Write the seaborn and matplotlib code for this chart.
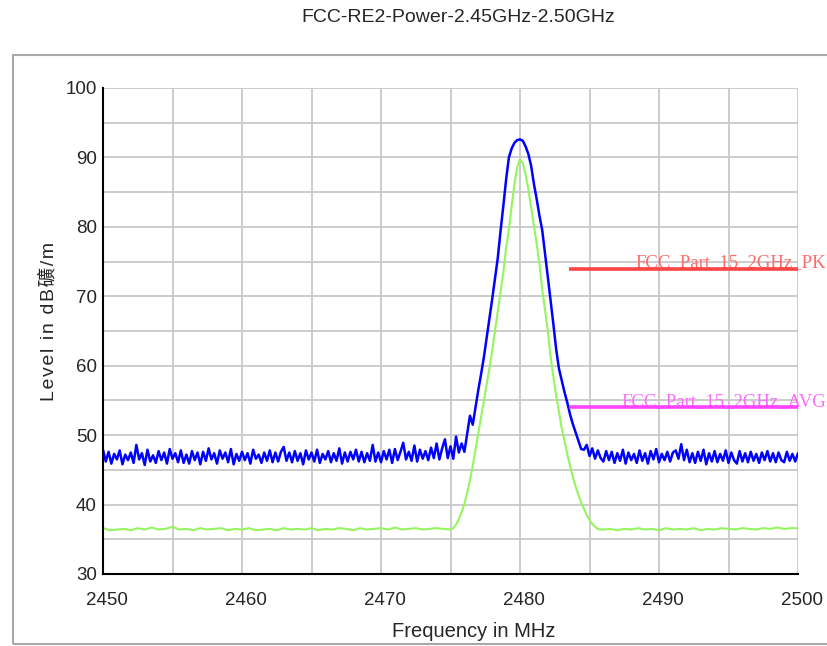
import numpy as np
import matplotlib
matplotlib.use('Agg')
import matplotlib.pyplot as plt
import matplotlib.transforms as mtransforms
from matplotlib.patches import Rectangle
import seaborn as sns
import pandas as pd

sns.set_style('white')
plt.rcParams['font.family'] = ['Liberation Sans', 'Noto Sans CJK SC', 'DejaVu Sans']

# ---- data ----
title = 'FCC-RE2-Power-2.45GHz-2.50GHz'
x_label = 'Frequency in MHz'
y_label = 'Level in dB礦/m'

# peak trace (blue), 0.2 MHz sweep steps
pk_left_start = 2450.0
pk_left = [
    47.9, 46.2, 47.6, 45.9, 47.3, 46.5, 47.8, 45.8, 47.2, 46.4,
    47.5, 46.0, 48.6, 46.5, 47.4, 45.7, 47.9, 46.2, 47.1, 46.0,
    47.7, 46.4, 47.5, 45.9, 48.0, 46.6, 47.4, 46.1, 47.8, 46.0,
    47.2, 45.9, 47.7, 46.4, 47.5, 45.8, 47.6, 46.3, 48.1, 46.5,
    47.4, 45.9, 47.8, 46.6, 47.5, 46.1, 48.0, 45.8, 47.3, 46.3,
    47.6, 46.4, 47.4, 45.9, 47.9, 46.6, 47.2, 46.0, 47.5, 46.3,
    47.8, 46.1, 47.5, 46.2, 47.6, 48.3, 46.3, 47.5, 46.1, 47.7,
    46.3, 47.4, 45.8, 47.8, 46.5, 47.5, 46.2, 47.9, 46.0, 47.3,
    46.5, 47.7, 46.1, 47.4, 46.3, 48.1, 45.9, 47.5, 46.2, 47.6,
    46.5, 47.9, 46.2, 47.6, 46.1, 47.4, 46.3, 48.6, 46.2, 47.5,
    46.1, 47.7, 46.5, 47.9, 46.0, 48.0, 46.4, 47.6, 48.9, 46.5,
    47.6, 46.3, 48.5, 46.2, 47.9, 46.6, 47.7, 46.4, 48.2, 46.7,
    48.8, 46.5, 48.1, 49.4, 46.7, 48.4, 46.6, 49.8,
]
pk_lobe_start = 2475.6
pk_lobe = [
    47.5, 48.8, 47.6, 50.2, 52.8, 51.5, 54.0, 56.5, 58.8, 61.2,
    64.0, 66.8, 69.6, 72.6, 75.5, 79.4, 83.0, 86.8, 90.0, 91.3,
    92.1, 92.5, 92.6, 92.4, 91.6, 90.5, 88.8, 86.2, 84.0, 81.6,
    79.5, 76.2, 72.8, 69.4, 66.0, 62.4, 59.6, 57.9, 56.2, 54.7,
    53.0, 51.6, 50.4, 49.2, 48.0,
]
pk_right_start = 2484.6
pk_right = [
    47.9, 48.6, 47.0, 48.1, 46.6, 47.8, 46.7, 46.2, 47.7, 46.4,
    47.6, 46.0, 47.4, 46.3, 47.9, 45.9, 47.5, 46.4, 47.3, 46.0,
    47.8, 46.3, 47.4, 45.9, 47.7, 46.5, 48.0, 46.1, 47.3, 46.4,
    47.6, 46.2, 47.5, 47.8, 46.6, 48.7, 46.4, 47.9, 46.1, 47.4,
    46.0, 47.6, 46.3, 47.9, 45.8, 47.4, 46.2, 47.7, 46.1, 47.3,
    46.3, 47.8, 46.0, 47.5, 46.4, 45.9, 47.7, 46.2, 47.4, 46.1,
    47.6, 46.3, 47.3, 46.0, 47.5, 46.4, 47.7, 46.2, 47.4, 46.1,
    47.5, 46.4, 46.1, 47.6, 46.3, 47.3, 46.2, 47.4,
]
pk_step = 0.2

# average trace (green)
av_left_start = 2450.0
av_left = [
    36.6, 36.3, 36.4, 36.5, 36.3, 36.6, 36.4, 36.7, 36.4, 36.5,
    36.8, 36.4, 36.5, 36.3, 36.6, 36.4, 36.5, 36.6, 36.3, 36.5,
    36.4, 36.6, 36.3, 36.4, 36.5, 36.3, 36.6, 36.4, 36.5, 36.4,
    36.6, 36.3, 36.5, 36.4, 36.6, 36.5, 36.3, 36.6, 36.4, 36.5,
    36.6, 36.4, 36.7, 36.4, 36.5, 36.6, 36.4, 36.5, 36.6, 36.5,
]
av_floor_step = 0.5
av_lobe_start = 2475.0
av_lobe = [
    36.4, 36.6, 37.1, 37.9, 38.9, 40.1, 41.7, 43.5, 45.6, 47.9,
    50.3, 52.6, 54.9, 57.3, 59.6, 62.2, 65.0, 67.8, 70.6, 73.4,
    77.0, 79.6, 83.0, 86.2, 88.6, 89.7, 89.2, 87.6, 85.4, 82.8,
    80.3, 77.6, 74.6, 71.0, 68.0, 65.0, 61.3, 58.4, 55.7, 53.4,
    51.0, 49.2, 47.3, 45.6, 44.0, 42.6, 41.4, 40.3, 39.4, 38.5,
    37.8, 37.2, 36.8, 36.5, 36.4,
]
av_lobe_step = 0.2
av_right_start = 2486.0
av_right = [
    36.4, 36.5, 36.3, 36.5, 36.4, 36.6, 36.4, 36.5, 36.3, 36.6,
    36.4, 36.5, 36.4, 36.6, 36.3, 36.5, 36.4, 36.6, 36.5, 36.4,
    36.6, 36.5, 36.4, 36.6, 36.5, 36.7, 36.5, 36.6, 36.6,
]

# limit lines
limit_names = ['FCC_Part_15_2GHz_PK', 'FCC_Part_15_2GHz_AVG']
limit_levels = [74, 54]
limit_start = 2483.5
limit_stop = 2500.0


def sweep(start, step, values):
    return start + step * np.arange(len(values))


pk_df = pd.DataFrame({
    'freq': np.concatenate([sweep(pk_left_start, pk_step, pk_left),
                            sweep(pk_lobe_start, pk_step, pk_lobe),
                            sweep(pk_right_start, pk_step, pk_right)]),
    'level': pk_left + pk_lobe + pk_right,
})
av_df = pd.DataFrame({
    'freq': np.concatenate([sweep(av_left_start, av_floor_step, av_left),
                            sweep(av_lobe_start, av_lobe_step, av_lobe),
                            sweep(av_right_start, av_floor_step, av_right)]),
    'level': av_left + av_lobe + av_right,
})

fig = plt.figure(figsize=(8.27, 6.46), dpi=100)
ax = fig.add_axes([103 / 827, 1 - 574 / 646, 695 / 827, 486 / 646])

# outer gray frame
fig.patches.append(Rectangle((13 / 827, 2 / 646), 1.0, (644 - 55) / 646,
                             transform=fig.transFigure, fill=False,
                             edgecolor='#a8a8a8', linewidth=1.5))

sns.lineplot(data=av_df, x='freq', y='level', ax=ax, color='#94f55f',
             linewidth=1.5, sort=False, estimator=None)
sns.lineplot(data=pk_df, x='freq', y='level', ax=ax, color='#0000ff',
             linewidth=1.8, sort=False, estimator=None)

limit_colors = ['#ff4444', '#ff44ff']
text_colors = ['#ff6b6b', '#ff6bff']
for name, lvl, c, tc in zip(limit_names, limit_levels, limit_colors, text_colors):
    ax.plot([limit_start, limit_stop], [lvl, lvl], color=c, linewidth=2.6,
            solid_capstyle='butt', zorder=3)
    ax.text(2502.0, lvl + 0.2, name, color=tc, fontsize=13.5,
            family=['Liberation Serif'], ha='right', va='baseline',
            clip_on=False, zorder=2)

ax.set_xlim(2450, 2500)
ax.set_ylim(30, 100)
ax.set_xticks(np.arange(2450, 2501, 10))
ax.set_xticks(np.arange(2455, 2500, 10), minor=True)
ax.set_yticks(np.arange(30, 101, 10))
ax.set_yticks(np.arange(35, 100, 10), minor=True)
ax.grid(which='both', color='#c8c8c8', linewidth=1.3)
ax.set_axisbelow(True)

ax.tick_params(axis='x', which='both', direction='inout', length=12, width=1.5,
               labelsize=13.5, pad=7, color='black')
ax.tick_params(axis='x', which='minor', labelbottom=False)
ax.tick_params(axis='y', which='both', direction='inout', length=11, width=1.5,
               labelsize=13.5, pad=-1, color='black')
ax.tick_params(axis='y', which='minor', labelleft=False)

shift = mtransforms.ScaledTranslation(4 / 100, 0, fig.dpi_scale_trans)
for lab in ax.get_xticklabels():
    lab.set_transform(lab.get_transform() + shift)

for side in ['top', 'right']:
    ax.spines[side].set_visible(False)
for side in ['left', 'bottom']:
    ax.spines[side].set_color('black')
    ax.spines[side].set_linewidth(1.5)

ax.set_xlabel(x_label, fontsize=14.5)
ax.xaxis.set_label_coords((474 - 103) / 695, -0.098)
# the original label is drawn with wide letter spacing
ax.set_ylabel('\u200a'.join(y_label), fontsize=14)
ax.yaxis.set_label_coords(-0.065, 0.52)

fig.text(458 / 827, 1 - 18 / 646, title, ha='center', va='center', fontsize=14)

fig.savefig('out.png', dpi=100, facecolor='white')
